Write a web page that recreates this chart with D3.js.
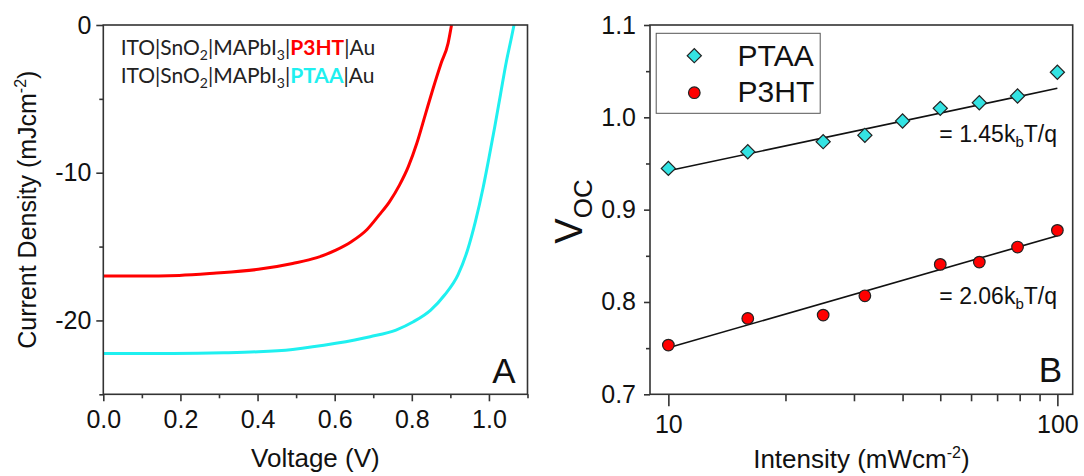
<!DOCTYPE html>
<html><head><meta charset="utf-8">
<script src="https://cdn.jsdelivr.net/npm/d3@7"></script>
<style>body{margin:0;background:#fff}svg{display:block}</style>
</head><body>
<svg id="c" width="1084" height="476"></svg>
<script>
// ---- Panel A data: J-V curves ----
const p3htV = [0, 0.090, 0.197, 0.286, 0.402, 0.491, 0.554, 0.603, 0.643, 0.684, 0.715, 0.742, 0.768, 0.791, 0.813, 0.836, 0.854, 0.876, 0.894, 0.903];
const p3htJ = [-16.99, -16.99, -16.95, -16.81, -16.54, -16.14, -15.75, -15.24, -14.67, -13.84, -12.87, -11.97, -10.84, -9.59, -8.01, -5.98, -4.40, -2.59, -1.24, 0];
const ptaaV = [0, 0.179, 0.313, 0.402, 0.491, 0.603, 0.692, 0.759, 0.804, 0.849, 0.885, 0.920, 0.945, 0.965, 0.985, 1.000, 1.015, 1.030, 1.045, 1.058, 1.065];
const ptaaJ = [-22.23, -22.23, -22.19, -22.12, -21.96, -21.55, -21.10, -20.65, -20.09, -19.30, -18.28, -16.90, -15.20, -13.30, -11.00, -9.00, -6.90, -4.70, -2.50, -0.90, 0];
const aXTicks = [0, 0.2, 0.4, 0.6, 0.8, 1.0];
const aXMinor = [0.1, 0.3, 0.5, 0.7, 0.9, 1.1];
const aYTicks = [0, -10, -20];
const aYMinor = [-5, -15, -25];

// ---- Panel B data: Voc vs intensity ----
const ptaaI = [10, 16, 25, 32, 40, 50, 63, 79, 100];
const ptaaVoc = [0.9447, 0.9627, 0.9736, 0.9805, 0.9960, 1.0097, 1.0158, 1.0231, 1.0488];
const p3htI = [10, 16, 25, 32, 50, 63, 79, 100];
const p3htVoc = [0.7533, 0.7822, 0.7858, 0.8067, 0.8407, 0.8432, 0.8595, 0.8776];
const fitI = [10, 100];
const ptaaFit = [0.9421, 1.0314];
const p3htFit = [0.7504, 0.8717];
const bXTicks = [10, 100];
const bXMinor = [20, 30, 40, 50, 60, 70, 80, 90];
const bYTicks = [0.7, 0.8, 0.9, 1.0, 1.1];
const bYMinor = [0.75, 0.85, 0.95, 1.05];

const RED = "#ff0000", CYAN_LINE = "#1ff0f0", CYAN_MK = "#33e3e3";
const FONT = "'Liberation Sans', Arial, sans-serif";
const svg = d3.select("#c");

function frame(g, x0, y0, x1, y1) {
  g.append("rect").attr("x", x0).attr("y", y0).attr("width", x1 - x0).attr("height", y1 - y0)
    .attr("fill", "none").attr("stroke", "#333").attr("stroke-width", 1.6);
}
function styleAxis(sel, size) {
  sel.select(".domain").remove();
  sel.selectAll(".tick line").attr("stroke", "#333").attr("stroke-width", 1.6);
  sel.selectAll("text").attr("font-family", FONT).attr("font-size", size).attr("fill", "#111");
}

// ================= Panel A =================
const ax = d3.scaleLinear().domain([0, 1.1]).range([103.3, 527.5]);
const ay = d3.scaleLinear().domain([-25, 0]).range([394.3, 25]);
const gA = svg.append("g");

const axA = gA.append("g").attr("transform", `translate(0,${ay(-25)})`)
  .call(d3.axisBottom(ax).tickValues(aXTicks).tickFormat(d3.format(".1f")).tickSize(7).tickSizeOuter(0).tickPadding(9));
styleAxis(axA, "25px");
const axAm = gA.append("g").attr("transform", `translate(0,${ay(-25)})`)
  .call(d3.axisBottom(ax).tickValues(aXMinor).tickFormat("").tickSize(4).tickSizeOuter(0));
styleAxis(axAm, "25px");
const ayA = gA.append("g").attr("transform", `translate(${ax(0)},0)`)
  .call(d3.axisLeft(ay).tickValues(aYTicks).tickFormat(d3.format("d")).tickSize(7).tickSizeOuter(0).tickPadding(5));
styleAxis(ayA, "25px");
ayA.selectAll("text").text(d => d === 0 ? "0" : "-" + Math.abs(d));
const ayAm = gA.append("g").attr("transform", `translate(${ax(0)},0)`)
  .call(d3.axisLeft(ay).tickValues(aYMinor).tickFormat("").tickSize(4).tickSizeOuter(0));
styleAxis(ayAm, "25px");

const lineA = d3.line().x(d => ax(d[0])).y(d => ay(d[1])).curve(d3.curveMonotoneX);
gA.append("path").datum(p3htV.map((v, i) => [v, p3htJ[i]])).attr("d", lineA)
  .attr("fill", "none").attr("stroke", RED).attr("stroke-width", 3);
gA.append("path").datum(ptaaV.map((v, i) => [v, ptaaJ[i]])).attr("d", lineA)
  .attr("fill", "none").attr("stroke", CYAN_LINE).attr("stroke-width", 3);
frame(gA, ax(0), ay(0), ax(1.1), ay(-25));

// device stack labels
const TF = "Lato, 'Open Sans', sans-serif";
function stack(y, name, col) {
  const t = gA.append("text").attr("x", 120.7).attr("y", y).attr("font-family", TF)
    .attr("font-size", "21px").attr("fill", "#222");
  t.append("tspan").text("ITO|SnO");
  t.append("tspan").text("2").attr("font-size", "14px").attr("dy", 5);
  t.append("tspan").text("|MAPbI").attr("dy", -5);
  t.append("tspan").text("3").attr("font-size", "14px").attr("dy", 5);
  t.append("tspan").text("|").attr("dy", -5);
  t.append("tspan").text(name).attr("fill", col).attr("font-weight", "bold");
  t.append("tspan").text("|Au");
}
stack(55, "P3HT", RED);
stack(83, "PTAA", CYAN_LINE);

gA.append("text").attr("x", 515.5).attr("y", 383).attr("text-anchor", "end")
  .attr("font-family", FONT).attr("font-size", "35px").attr("fill", "#111").text("A");

gA.append("text").attr("x", ax(0.55)).attr("y", 467).attr("text-anchor", "middle")
  .attr("font-family", FONT).attr("font-size", "26px").attr("fill", "#111").text("Voltage (V)");
const yl = gA.append("text").attr("transform", `translate(36,${(ay(0) + ay(-25)) / 2}) rotate(-90)`)
  .attr("text-anchor", "middle").attr("font-family", FONT).attr("font-size", "25px").attr("fill", "#111");
yl.append("tspan").text("Current Density (mJcm");
yl.append("tspan").text("-2").attr("font-size", "16px").attr("dy", -10);
yl.append("tspan").text(")").attr("dy", 10);

// ================= Panel B =================
const bx = d3.scaleLog().domain([8.97, 109.5]).range([650, 1072.7]);
const by = d3.scaleLinear().domain([0.7, 1.1]).range([394.3, 25]);
const gB = svg.append("g");

const bxA = gB.append("g").attr("transform", `translate(0,${by(0.7)})`)
  .call(d3.axisBottom(bx).tickValues(bXTicks).tickFormat(d3.format("d")).tickSize(12).tickSizeOuter(0).tickPadding(9));
styleAxis(bxA, "25px");
const bxAm = gB.append("g").attr("transform", `translate(0,${by(0.7)})`)
  .call(d3.axisBottom(bx).tickValues(bXMinor).tickFormat("").tickSize(7).tickSizeOuter(0));
styleAxis(bxAm, "25px");
const byA = gB.append("g").attr("transform", `translate(650,0)`)
  .call(d3.axisLeft(by).tickValues(bYTicks).tickFormat(d3.format(".1f")).tickSize(6).tickSizeOuter(0).tickPadding(8));
styleAxis(byA, "25px");
const byAm = gB.append("g").attr("transform", `translate(650,0)`)
  .call(d3.axisLeft(by).tickValues(bYMinor).tickFormat("").tickSize(4).tickSizeOuter(0));
styleAxis(byAm, "25px");

const lineB = d3.line().x(d => bx(d[0])).y(d => by(d[1]));
gB.append("path").datum(fitI.map((v, i) => [v, ptaaFit[i]])).attr("d", lineB)
  .attr("fill", "none").attr("stroke", "#111").attr("stroke-width", 1.6);
gB.append("path").datum(fitI.map((v, i) => [v, p3htFit[i]])).attr("d", lineB)
  .attr("fill", "none").attr("stroke", "#111").attr("stroke-width", 1.6);

gB.selectAll(".dia").data(ptaaI.map((v, i) => [v, ptaaVoc[i]])).join("path")
  .attr("transform", d => `translate(${bx(d[0])},${by(d[1])}) rotate(45)`)
  .attr("d", d3.symbol().type(d3.symbolSquare).size(100))
  .attr("fill", CYAN_MK).attr("stroke", "#222").attr("stroke-width", 1.2);
gB.selectAll(".cir").data(p3htI.map((v, i) => [v, p3htVoc[i]])).join("circle")
  .attr("cx", d => bx(d[0])).attr("cy", d => by(d[1])).attr("r", 5.8)
  .attr("fill", RED).attr("stroke", "#222").attr("stroke-width", 1.2);

frame(gB, 650, by(1.1), 1072.7, by(0.7));

// legend
gB.append("rect").attr("x", 656.2).attr("y", 33.3).attr("width", 164).attr("height", 80)
  .attr("fill", "#fff").attr("stroke", "#555").attr("stroke-width", 1);
gB.append("path").attr("transform", "translate(694.3,55.7) rotate(45)")
  .attr("d", d3.symbol().type(d3.symbolSquare).size(100))
  .attr("fill", CYAN_MK).attr("stroke", "#222").attr("stroke-width", 1.2);
gB.append("circle").attr("cx", 694.3).attr("cy", 92.7).attr("r", 5.8)
  .attr("fill", RED).attr("stroke", "#222").attr("stroke-width", 1.2);
gB.append("text").attr("x", 737.6).attr("y", 65.5).attr("font-family", FONT).attr("font-size", "30px")
  .attr("fill", "#111").text("PTAA");
gB.append("text").attr("x", 737.6).attr("y", 102).attr("font-family", FONT).attr("font-size", "30px")
  .attr("fill", "#111").text("P3HT");

function slope(y, val) {
  const t = gB.append("text").attr("x", 1057).attr("y", y).attr("text-anchor", "end")
    .attr("font-family", FONT).attr("font-size", "23px").attr("fill", "#111");
  t.append("tspan").text("= " + val + "k");
  t.append("tspan").text("b").attr("font-size", "15px").attr("dy", 5);
  t.append("tspan").text("T/q").attr("dy", -5);
}
slope(141.7, "1.45");
slope(304, "2.06");

gB.append("text").attr("x", 1062).attr("y", 382).attr("text-anchor", "end")
  .attr("font-family", FONT).attr("font-size", "35px").attr("fill", "#111").text("B");

const bxl = gB.append("text").attr("x", 861.4).attr("y", 468).attr("text-anchor", "middle")
  .attr("font-family", FONT).attr("font-size", "26px").attr("fill", "#111");
bxl.append("tspan").text("Intensity (mWcm");
bxl.append("tspan").text("-2").attr("font-size", "16px").attr("dy", -10);
bxl.append("tspan").text(")").attr("dy", 10);

const byl = gB.append("text").attr("transform", `translate(581.6,211.5) rotate(-90)`)
  .attr("text-anchor", "middle").attr("font-family", FONT).attr("fill", "#111");
byl.append("tspan").text("V").attr("font-size", "38px");
byl.append("tspan").text("OC").attr("font-size", "26px").attr("dy", 10);
</script>
</body></html>
